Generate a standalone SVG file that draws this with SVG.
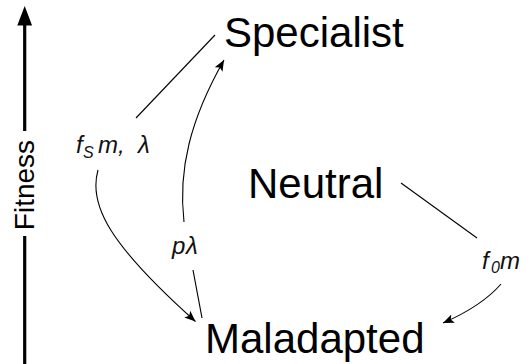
<svg xmlns="http://www.w3.org/2000/svg" width="530" height="364" viewBox="0 0 530 364">
<style>
.node{font-family:"Liberation Sans",Arial,Helvetica,sans-serif;font-size:42px;fill:#000}
.axis{font-family:"Liberation Sans",Arial,Helvetica,sans-serif;font-size:28px;fill:#000}
.lbl{font-family:"Liberation Sans",Arial,Helvetica,sans-serif;font-style:italic;font-size:24px;fill:#111}
.sub{font-size:16px}
.edge{fill:none;stroke:#000;stroke-width:1.1}
</style>
<defs>
<marker id="ah" markerUnits="userSpaceOnUse" markerWidth="14" markerHeight="10" refX="11" refY="4.5" orient="auto">
<path d="M0,0 L11,4.5 L0,9 L2.5,4.5 z" fill="#000"/>
</marker>
</defs>
<rect width="530" height="364" fill="#fff"/>
<g id="fitness-axis">
<line x1="24.7" y1="22" x2="24.7" y2="131" stroke="#000" stroke-width="3.2"/>
<polygon points="24.7,6 17.3,25.5 32.1,25.5" fill="#000"/>
<line x1="24.7" y1="236" x2="24.7" y2="364" stroke="#000" stroke-width="3.2"/>
<text class="axis" x="33.5" y="185" text-anchor="middle" transform="rotate(-90 33.5 185)">Fitness</text>
</g>
<g id="node-specialist"><text class="node" x="224" y="47">Specialist</text></g>
<g id="node-neutral"><text class="node" x="248" y="198">Neutral</text></g>
<g id="node-maladapted"><text class="node" x="205" y="353">Maladapted</text></g>
<g id="connectors">
<g id="edge-specialist-maladapted">
<path class="edge" d="M215,35 L136,118"/>
<path class="edge" d="M98,170 C88,205 110,245 195.5,321.5" marker-end="url(#ah)"/>
<text class="lbl" y="153"><tspan x="76">f</tspan><tspan class="sub" x="83" y="158">S</tspan><tspan x="98" y="153">m,</tspan><tspan x="138" y="153">λ</tspan></text>
</g>
<g id="edge-maladapted-specialist">
<path class="edge" d="M202,318 L193,270"/>
<path class="edge" d="M184,222 C178,170 190,120 224,60" marker-end="url(#ah)"/>
<text class="lbl" y="254"><tspan x="172">p</tspan><tspan x="186">λ</tspan></text>
</g>
<g id="edge-neutral-maladapted">
<path class="edge" d="M401,183 L477,238"/>
<path class="edge" d="M501,284 Q482,306 443,323" marker-end="url(#ah)"/>
<text class="lbl" y="269"><tspan x="482">f</tspan><tspan class="sub" x="491" y="273">0</tspan><tspan x="500" y="269">m</tspan></text>
</g>
</g>
</svg>
